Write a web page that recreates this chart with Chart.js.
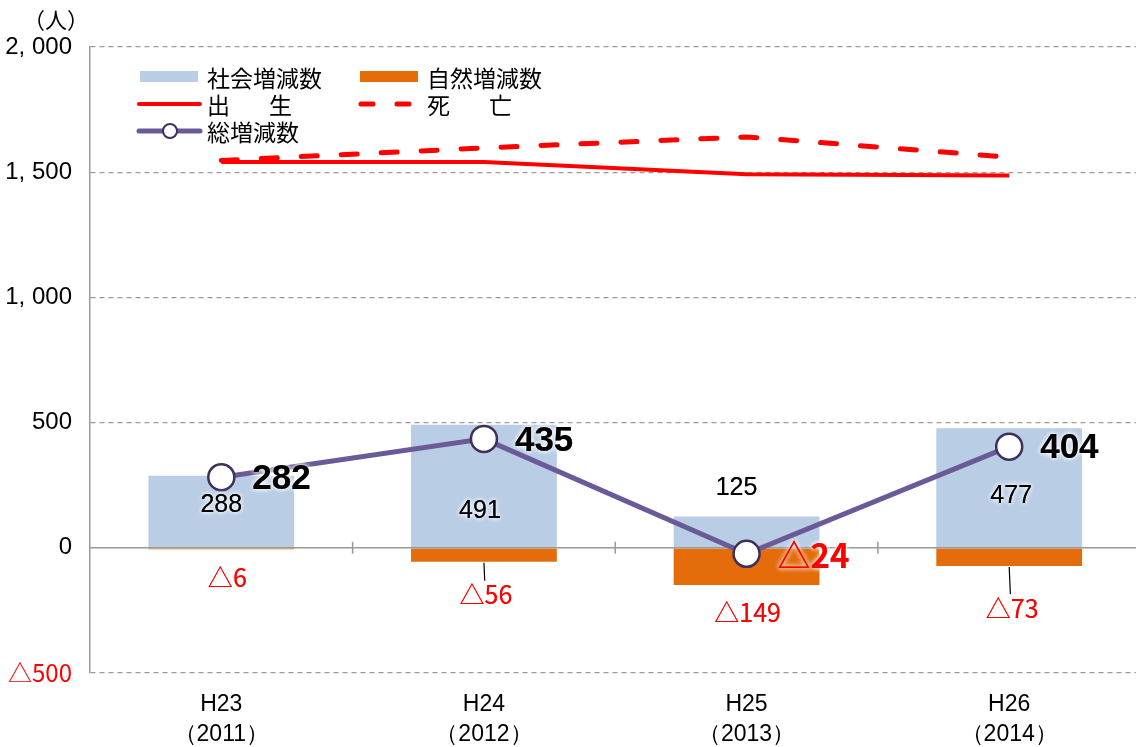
<!DOCTYPE html>
<html>
<head>
<meta charset="utf-8">
<script src="https://cdn.jsdelivr.net/npm/chart.js@4/dist/chart.umd.min.js"></script>
<style>
  html, body { margin: 0; padding: 0; background: #fff; overflow: hidden; }
  #wrap { width: 1156px; height: 747px; }
</style>
</head>
<body>
<div id="wrap"><canvas id="chart" width="1156" height="747"></canvas></div>
<script>
// data
const categories = ["H23", "H24", "H25", "H26"];
const years = ["2011", "2012", "2013", "2014"];
const socialChange = [288, 491, 125, 477];     // 社会増減数
const naturalChange = [-6, -56, -149, -73];    // 自然増減数
const totalChange = [282, 435, -24, 404];      // 総増減数
const births = [1541, 1541, 1492, 1487];       // 出生
const deaths = [1547, 1597, 1641, 1560];       // 死亡
const yMin = -500, yMax = 2000, yStep = 500;

const NUM = "'Liberation Sans', sans-serif";
const JP = "'Noto Sans CJK JP', sans-serif";

const BLUE = "#B9CDE5", ORANGE = "#E46C0A", RED = "#FF0000", PURPLE = "#6B5A98", GRID = "#9a9a9a";

const fmt = v => v < 0 ? "△" + Math.abs(v) : String(v);
const fmtTick = v => {
  if (v < 0) return "△" + Math.abs(v);
  if (v >= 1000) return Math.floor(v / 1000) + ", " + String(v % 1000).padStart(3, "0");
  return String(v);
};

// label offsets (px) from the value position
const socialOff = [[0, 29], [-4, 86], [-10, -28], [2, 68]];
const naturalOff = [[6, 28], [2, 33], [1, 27], [3, 42]];

function glowText(ctx, text, x, y, font, color, align) {
  ctx.save();
  ctx.font = font;
  ctx.textAlign = align || "center";
  ctx.textBaseline = "middle";
  ctx.fillStyle = color;
  ctx.shadowColor = "rgba(255,255,255,1)";
  ctx.shadowBlur = 5;
  ctx.fillText(text, x, y);
  ctx.fillText(text, x, y);
  ctx.restore();
}

const extras = {
  id: "extras",
  afterDatasetDraw(chart, args) {
    // zero line + category ticks, drawn after the bars, below the lines
    if (args.index !== 1) return;
    const { ctx, chartArea, scales } = chart;
    const y0 = scales.y.getPixelForValue(0);
    ctx.save();
    ctx.strokeStyle = GRID;
    ctx.lineWidth = 1.5;
    ctx.beginPath();
    ctx.moveTo(chartArea.left, y0);
    ctx.lineTo(chartArea.right, y0);
    const n = categories.length;
    for (let i = 1; i < n; i++) {
      const x = (scales.x.getPixelForValue(i - 1) + scales.x.getPixelForValue(i)) / 2;
      ctx.moveTo(x, y0 - 6);
      ctx.lineTo(x, y0 + 6);
    }
    ctx.stroke();
    ctx.restore();
  },
  afterDatasetsDraw(chart) {
    const { ctx, scales } = chart;
    const xs = scales.x, ys = scales.y;
    categories.forEach((c, i) => {
      const x = xs.getPixelForValue(i);
      // social
      glowText(ctx, fmt(socialChange[i]), x + socialOff[i][0], ys.getPixelForValue(socialChange[i]) + socialOff[i][1],
        "25px " + NUM, "#000");
      // natural
      const ny = ys.getPixelForValue(naturalChange[i]);
      const ly = ny + naturalOff[i][1];
      if (naturalOff[i][1] > 30) {
        ctx.save();
        ctx.strokeStyle = "#000";
        ctx.lineWidth = 1.2;
        ctx.beginPath();
        ctx.moveTo(x, ny + 1);
        ctx.lineTo(x + naturalOff[i][0] * 0.4, ly - 14);
        ctx.stroke();
        ctx.restore();
      }
      glowText(ctx, fmt(naturalChange[i]), x + naturalOff[i][0], ly, "25px " + JP, RED);
      // total
      const ty = ys.getPixelForValue(totalChange[i]);
      const neg = totalChange[i] < 0;
      glowText(ctx, fmt(totalChange[i]), x + 31, ty + 2, neg ? "bold 33px " + JP : "bold 35px " + NUM,
        neg ? RED : "#000", "left");
    });
  },
  afterDraw(chart) {
    const ctx = chart.ctx;
    const ca = chart.chartArea;
    // unit
    ctx.save();
    ctx.font = "22px " + JP;
    ctx.fillStyle = "#000";
    ctx.textAlign = "center";
    ctx.textBaseline = "middle";
    ctx.fillText("（人）", ca.left - 34, 20);
    ctx.restore();

    // legend, two columns
    const ds = chart.data.datasets;
    const items = [
      { d: ds[0], kind: "box", col: 0, row: 0 },
      { d: ds[1], kind: "box", col: 1, row: 0 },
      { d: ds[2], kind: "line", col: 0, row: 1 },
      { d: ds[3], kind: "line", col: 1, row: 1 },
      { d: ds[4], kind: "point", col: 0, row: 2 }
    ];
    const x0 = ca.left + 49, colW = 220, rowY0 = 77, rowH = 27;
    items.forEach(it => {
      const lx = x0 + it.col * colW;
      const ly = rowY0 + it.row * rowH;
      ctx.save();
      if (it.kind === "box") {
        ctx.fillStyle = it.d.backgroundColor;
        ctx.fillRect(lx + 1, ly - 6, 58, 11);
      } else {
        ctx.strokeStyle = it.d.borderColor;
        ctx.lineWidth = Math.min(it.d.borderWidth, 5);
        ctx.lineCap = "round";
        ctx.setLineDash(it.d.borderDash ? [12, 24] : []);
        ctx.beginPath();
        ctx.moveTo(lx + (it.d.borderDash ? 2 : 0), ly);
        ctx.lineTo(lx + 61, ly);
        ctx.stroke();
        if (it.kind === "point") {
          ctx.setLineDash([]);
          ctx.fillStyle = "#fff";
          ctx.strokeStyle = it.d.pointBorderColor;
          ctx.lineWidth = 2;
          ctx.beginPath();
          ctx.arc(lx + 31, ly, 7, 0, Math.PI * 2);
          ctx.fill();
          ctx.stroke();
        }
      }
      ctx.font = "23px " + JP;
      ctx.fillStyle = "#000";
      ctx.textBaseline = "middle";
      ctx.textAlign = "left";
      if (it.d.label.includes("　")) ctx.letterSpacing = "8px";
      ctx.fillText(it.d.label, lx + 68, ly + 1);
      ctx.restore();
    });
  }
};

new Chart(document.getElementById("chart"), {
  type: "bar",
  data: {
    labels: categories.map((c, i) => [c, "（" + years[i] + "）"]),
    datasets: [
      { label: "社会増減数", data: socialChange, backgroundColor: BLUE, grouped: false,
        barPercentage: 0.555, categoryPercentage: 1, order: 5 },
      { label: "自然増減数", data: naturalChange, backgroundColor: ORANGE, grouped: false,
        barPercentage: 0.555, categoryPercentage: 1, order: 4 },
      { type: "line", label: "出　生", data: births, borderColor: RED, borderWidth: 4,
        pointRadius: 0, tension: 0, order: 3 },
      { type: "line", label: "死　亡", data: deaths, borderColor: RED, borderWidth: 5,
        borderDash: [16, 24], borderCapStyle: "round", pointRadius: 0, tension: 0, order: 2 },
      { type: "line", label: "総増減数", data: totalChange, borderColor: PURPLE, borderWidth: 5,
        pointRadius: 13, pointBackgroundColor: "#fff", pointBorderColor: "#3E2F5B",
        pointBorderWidth: 2.5, tension: 0, order: 1 }
    ]
  },
  options: {
    responsive: false,
    devicePixelRatio: 1,
    animation: false,
    layout: { padding: { top: 47, right: 0, left: 0, bottom: 0 } },
    plugins: { legend: { display: false }, tooltip: { enabled: false } },
    scales: {
      x: {
        grid: { display: false },
        border: { display: false },
        ticks: {
          color: "#000",
          font: { family: NUM, size: 23, lineHeight: 1.3 },
          padding: 9,
          maxRotation: 0
        },
        afterFit(scale) { scale.height = 74; }
      },
      y: {
        min: yMin,
        max: yMax,
        ticks: {
          stepSize: yStep,
          padding: 18,
          color: c => c.tick && c.tick.value < 0 ? RED : "#000",
          font: c => ({ family: c.tick && c.tick.value < 0 ? JP : NUM, size: 24 }),
          callback: v => fmtTick(v)
        },
        grid: {
          drawTicks: false,
          color: c => c.tick && c.tick.value === 0 ? "rgba(0,0,0,0)" : GRID,
          lineWidth: 1.2
        },
        border: { display: true, color: GRID, width: 1.5, dash: [5, 4] },
        afterFit(scale) { scale.width = 90; }
      }
    }
  },
  plugins: [extras]
});
</script>
</body>
</html>
